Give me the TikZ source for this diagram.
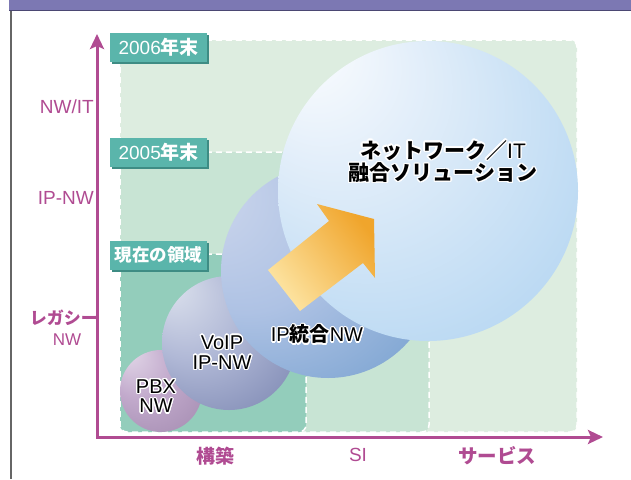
\documentclass[tikz,border=0pt]{standalone}
\usepackage{fontspec}
\setmainfont{Liberation Sans}
\newfontfamily\cjk{Noto Sans CJK JP}
\usepackage[copies]{contour}
\contourlength{1.3pt}
\contournumber{16}
\usetikzlibrary{arrows.meta}
\definecolor{axiscol}{HTML}{B04B92}
\definecolor{barcol}{HTML}{7C78B3}
\definecolor{barline}{HTML}{4B4873}
\definecolor{framecol}{HTML}{666666}
\definecolor{regA}{HTML}{DDEDE0}
\definecolor{regB}{HTML}{C8E4D4}
\definecolor{regC}{HTML}{93CDBB}
\definecolor{tagcol}{HTML}{5AB5AB}
\definecolor{tagshadow}{HTML}{3E8C84}
\definecolor{arrowA}{HTML}{FDE4A2}
\definecolor{arrowB}{HTML}{F0A52C}
\definecolor{pbxA}{HTML}{E4DAEA}
\definecolor{pbxB}{HTML}{C2AACC}
\definecolor{pbxC}{HTML}{9880A6}
\definecolor{voipA}{HTML}{DEE3EE}
\definecolor{voipB}{HTML}{B0B8D6}
\definecolor{voipC}{HTML}{6672A2}
\definecolor{ipA}{HTML}{D2DAEE}
\definecolor{ipB}{HTML}{AEC2E4}
\definecolor{ipC}{HTML}{5E92C6}
\definecolor{bigA}{HTML}{E4EFFA}
\definecolor{bigB}{HTML}{C2DDF4}
\definecolor{bigC}{HTML}{A0CAEC}
\pgfdeclareradialshading{pbxsph}{\pgfpoint{-22bp}{26bp}}{color(0bp)=(pbxA); color(20bp)=(pbxB); color(50bp)=(pbxC)}
\pgfdeclareradialshading{voipsph}{\pgfpoint{-24bp}{23bp}}{color(0bp)=(voipA); color(20bp)=(voipB); color(50bp)=(voipC)}
\pgfdeclareradialshading{ipsph}{\pgfpoint{-35bp}{22bp}}{color(0bp)=(ipA); color(22bp)=(ipB); color(50bp)=(ipC)}
\pgfdeclareradialshading{bigsph}{\pgfpoint{-23bp}{27bp}}{color(0bp)=(white); color(14bp)=(bigA); color(32bp)=(bigB); color(50bp)=(bigC)}
\tikzset{
  region/.style={fill=#1, draw=white, line width=1.5pt, dash pattern=on 6pt off 4pt, rounded corners=7pt},
  tagbox/.style={fill=tagcol, text=white, minimum width=97pt, minimum height=29pt, inner sep=0pt, anchor=west, font=\fontsize{19}{21}\selectfont},
  tagshade/.style={fill=tagshadow, minimum width=97pt, minimum height=29pt, inner sep=0pt, anchor=west},
  sphere/.style={circle, inner sep=0pt, draw=none, shading=#1},
  axislbl/.style={text=axiscol, inner sep=0pt, font=\fontsize{19}{21}\selectfont},
  sphlbl/.style={align=center, inner sep=0pt, font=\fontsize{20}{20}\selectfont},
}
\begin{document}
\begin{tikzpicture}[x=1pt,y=-1pt]
\useasboundingbox (0,0) rectangle (631,479);
% top bar and frame
\fill[barcol] (9,0) rectangle (631,10);
\draw[barline, line width=1.2pt] (9,10.6) -- (631,10.6);
\draw[framecol, line width=1.2pt] (11,11) -- (11,479);
% regions
\draw[region=regA] (120,40) rectangle (577,432);
\draw[region=regB] (120,152) rectangle (429,432);
\draw[region=regC] (120,254) rectangle (306,432);
% tags
\node[tagshade] (t1s) at (112,49.5) {};
\node[tagbox] (t1) at (110,47.5) {2006{\cjk\bfseries 年末}};
\node[tagshade] (t2s) at (112,154.5) {};
\node[tagbox] (t2) at (110,152.5) {2005{\cjk\bfseries 年末}};
\node[tagshade] (t3s) at (112,257) {};
\node[tagbox, font=\fontsize{17.5}{20}\selectfont] (t3) at (110,255) {\cjk\bfseries 現在の領域};
% spheres
\node[sphere=pbxsph, minimum size=82pt] (pbx) at (161,391) {};
\node[sphere=voipsph, minimum size=134pt] (voip) at (229,343) {};
\node[sphere=ipsph, minimum size=214pt] (ipnw) at (328,271) {};
\node[sphere=bigsph, minimum size=300pt] (big) at (428,191) {};
% arrow
\shade[bottom color=arrowA, top color=arrowB, shading angle=-52]
  (268,270) -- (329,221) -- (317,204) -- (374,219) -- (375,278) -- (363,263) -- (300,311) -- cycle;
% sphere labels
\node[sphlbl, font=\fontsize{20}{19.5}\selectfont] (pbxl) at (156,397) {\contour{white}{PBX}\\\contour{white}{NW}};
\node[sphlbl] (voipl) at (222,353) {\contour{white}{VoIP}\\\contour{white}{IP-NW}};
\node[sphlbl] (ipl) at (317,335) {\contour{white}{IP{\cjk\bfseries 統合}NW}};
\node[sphlbl, font=\fontsize{21}{21}\selectfont] (bigl) at (443,162) {\contour{white}{{\cjk\bfseries ネットワーク／}IT}\\\contour{white}{\cjk\bfseries 融合ソリューション}};
% axes
\coordinate (origin) at (97,437);
\coordinate (ytip) at (97,34);
\coordinate (xtip) at (603,437);
\draw[axiscol, line width=3pt, {Stealth[length=15pt,width=14pt,inset=3pt]}-{Stealth[length=15pt,width=14pt,inset=3pt]}] (ytip) -- (origin) -- (xtip);
% axis labels
\node[axislbl, anchor=east] (nwit) at (94,107) {NW/IT};
\node[axislbl, anchor=east] (ipnwl) at (94,198) {IP-NW};
\node[axislbl, anchor=east, font=\fontsize{17}{19}\selectfont] (legacy) at (98,318) {\cjk\bfseries レガシー};
\node[axislbl, font=\fontsize{17}{19}\selectfont] (legnw) at (67,340) {NW};
\node[axislbl] (kouchiku) at (215,456) {\cjk\bfseries 構築};
\node[axislbl] (si) at (358,455) {SI};
\node[axislbl, font=\fontsize{19.5}{21}\selectfont] (service) at (497,456) {\cjk\bfseries サービス};
\end{tikzpicture}
\end{document}
